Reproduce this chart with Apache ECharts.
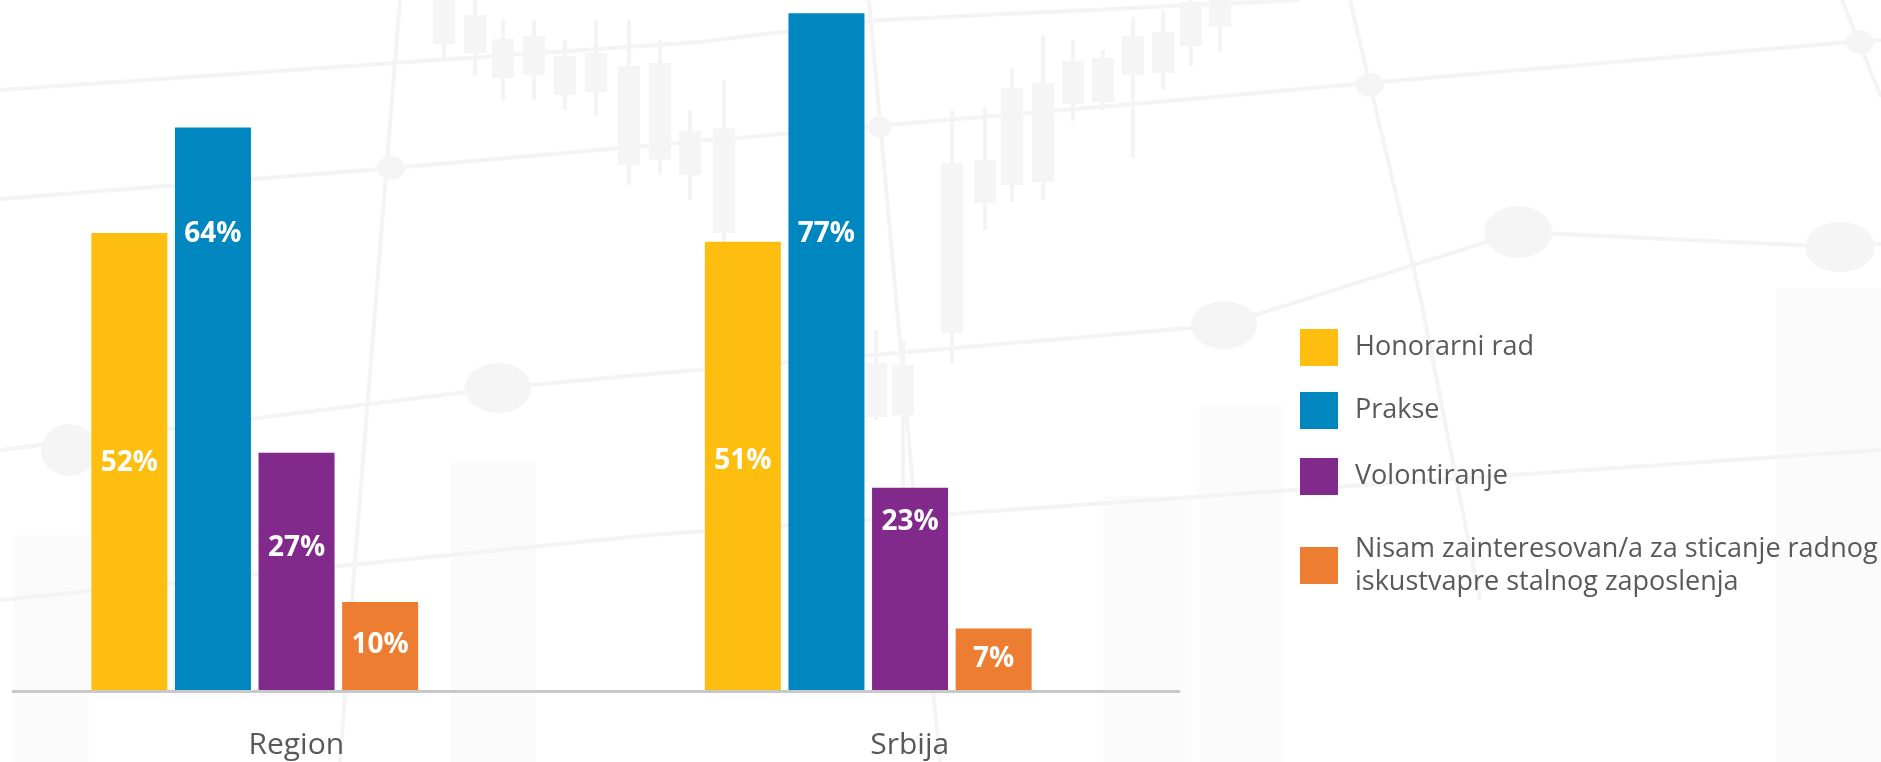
<!DOCTYPE html>
<html>
<head>
<meta charset="utf-8">
<script src="https://cdn.jsdelivr.net/npm/echarts@6/dist/echarts.min.js"></script>
<style>
  html, body { margin: 0; padding: 0; background: #ffffff; }
  #chart { width: 1881px; height: 762px; }
</style>
</head>
<body>
<div id="chart"></div>
<script>
// ---- data ----
const categories = ['Region', 'Srbija'];
const seriesNames = [
  'Honorarni rad',
  'Prakse',
  'Volontiranje',
  'Nisam zainteresovan/a za sticanje radnog iskustvapre stalnog zaposlenja'
];
const honorarniRad = [52, 51];
const prakse = [64, 77];
const volontiranje = [27, 23];
const nisamZainteresovan = [10, 7];

// ---- styling ----
const seriesValues = [honorarniRad, prakse, volontiranje, nisamZainteresovan];
const colors = ['#FDBE10', '#0087BF', '#812A8B', '#EC7D31'];
// vertical nudge of each value label from the bar centre (px), per series / category
const labelNudge = [[2, -5], [-175, -118], [-23, -67], [-1, 0]];
// legend rows: top of each swatch
const legendTops = [329, 392, 458, 528];
const FONT = '"Open Sans", "Noto Sans", sans-serif';
const TEXT_GREY = '#595959';

// faint market-chart backdrop
const DECOR_LINE = '#f4f4f4';
const DECOR_FILL = '#f5f5f5';
const backdropLines = [
  [[0, 90], [700, 42], [880, 20], [1300, 0]],
  [[0, 199], [393, 168], [700, 141], [1180, 100], [1368, 83], [1850, 42], [1881, 40]],
  [[0, 450], [498, 388], [650, 374], [1224, 325], [1350, 285], [1518, 232], [1840, 247], [1881, 244]],
  [[0, 600], [650, 535], [1350, 486], [1881, 450]],
  [[400, 0], [355, 560], [340, 762]],
  [[869, 0], [913, 486], [940, 762]],
  [[1350, 0], [1421, 300], [1480, 600]],
  [[1842, 0], [1881, 97]]
];
const backdropDots = [
  [391, 168, 14, 12], [498, 388, 33, 25], [69, 450, 28, 26], [880, 127, 12, 11],
  [1224, 325, 33, 24], [1518, 232, 34, 26], [1840, 247, 35, 25], [1370, 85, 14, 12], [1860, 42, 14, 12]
];
// candles: x centre, wick top, wick bottom, body top, body bottom
const backdropCandles = [
  [444, 0, 60, 0, 44], [475, 0, 75, 15, 53], [503, 20, 100, 39, 78], [534, 20, 100, 36, 75],
  [565, 40, 110, 56, 95], [596, 20, 115, 53, 92], [629, 20, 185, 66, 165], [660, 40, 175, 63, 160],
  [690, 110, 200, 131, 175], [724, 80, 245, 128, 233], [876, 330, 420, 363, 417], [903, 340, 500, 365, 415],
  [952, 110, 363, 163, 333], [985, 108, 230, 160, 203], [1012, 68, 202, 88, 185], [1043, 35, 200, 83, 182],
  [1073, 40, 121, 61, 104], [1103, 50, 110, 58, 102], [1133, 17, 158, 36, 75], [1163, 10, 90, 32, 73],
  [1191, 0, 66, 2, 46], [1220, 0, 51, 0, 27]
];
const backdropBlocks = [
  [13, 535, 76, 227], [451, 462, 85, 300], [1103, 496, 88, 266], [1199, 406, 85, 356], [1776, 288, 105, 474]
];

const decor = [];
backdropBlocks.forEach(b => decor.push({
  type: 'rect', silent: true, z: -3,
  shape: { x: b[0], y: b[1], width: b[2], height: b[3] },
  style: { fill: '#fbfbfb' }
}));
backdropLines.forEach(pts => decor.push({
  type: 'polyline', silent: true, z: -2,
  shape: { points: pts },
  style: { stroke: DECOR_LINE, lineWidth: 4, fill: null }
}));
backdropDots.forEach(d => decor.push({
  type: 'ellipse', silent: true, z: -2,
  shape: { cx: d[0], cy: d[1], rx: d[2], ry: d[3] },
  style: { fill: DECOR_FILL }
}));
backdropCandles.forEach(c => {
  decor.push({
    type: 'line', silent: true, z: -2,
    shape: { x1: c[0], y1: c[1], x2: c[0], y2: c[2] },
    style: { stroke: DECOR_LINE, lineWidth: 4 }
  });
  decor.push({
    type: 'rect', silent: true, z: -2,
    shape: { x: c[0] - 11, y: c[3], width: 22, height: Math.max(c[4] - c[3], 0) },
    style: { fill: DECOR_FILL }
  });
});

const chart = echarts.init(document.getElementById('chart'), null, { renderer: 'canvas' });

const series = seriesNames.map((name, i) => ({
  name: name,
  type: 'bar',
  xAxisIndex: 0,
  yAxisIndex: 0,
  barWidth: 76,
  barGap: '10%',
  itemStyle: { color: colors[i] },
  label: {
    show: true,
    position: 'inside',
    formatter: '{c}%',
    color: '#ffffff',
    fontFamily: FONT,
    fontWeight: 'bold',
    fontSize: 28
  },
  emphasis: { disabled: true },
  data: seriesValues[i].map((v, j) => ({
    value: v,
    label: { offset: [0, labelNudge[i][j]] }
  }))
}));

const legends = seriesNames.map((name, i) => ({
  data: [name],
  left: 1300,
  top: legendTops[i],
  padding: 0,
  orient: 'vertical',
  icon: 'rect',
  itemWidth: 38,
  itemHeight: 37,
  selectedMode: false,
  textStyle: Object.assign({
    fontFamily: FONT,
    fontSize: 27,
    color: TEXT_GREY,
    padding: i === 3 ? [9, 0, 0, 12] : [0, 0, 0, 12]
  }, i === 3 ? { width: 540, overflow: 'break', lineHeight: 33 } : {})
}));

chart.setOption({
  backgroundColor: '#ffffff',
  animation: false,
  graphic: { elements: decor },
  legend: legends,
  grid: [
    { left: -52, right: 706, top: 0, bottom: 72, outerBoundsMode: 'none' },
    { left: 13, right: 702, top: 0, bottom: 71, outerBoundsMode: 'none' }
  ],
  xAxis: [
    {
      type: 'category',
      gridIndex: 0,
      data: categories,
      axisLine: { show: false },
      axisTick: { show: false },
      axisLabel: {
        margin: 40,
        fontFamily: FONT,
        fontSize: 30,
        color: TEXT_GREY,
        padding: [0, 0, 0, 83]
      }
    },
    {
      type: 'category',
      gridIndex: 1,
      data: categories,
      axisLine: { show: true, lineStyle: { color: '#c8c8c8', width: 3 } },
      axisTick: { show: false },
      axisLabel: { show: false }
    }
  ],
  yAxis: [
    { type: 'value', gridIndex: 0, min: 0, max: 78.5, show: false },
    { type: 'value', gridIndex: 1, min: 0, max: 1, show: false }
  ],
  series: series
});
</script>
</body>
</html>
